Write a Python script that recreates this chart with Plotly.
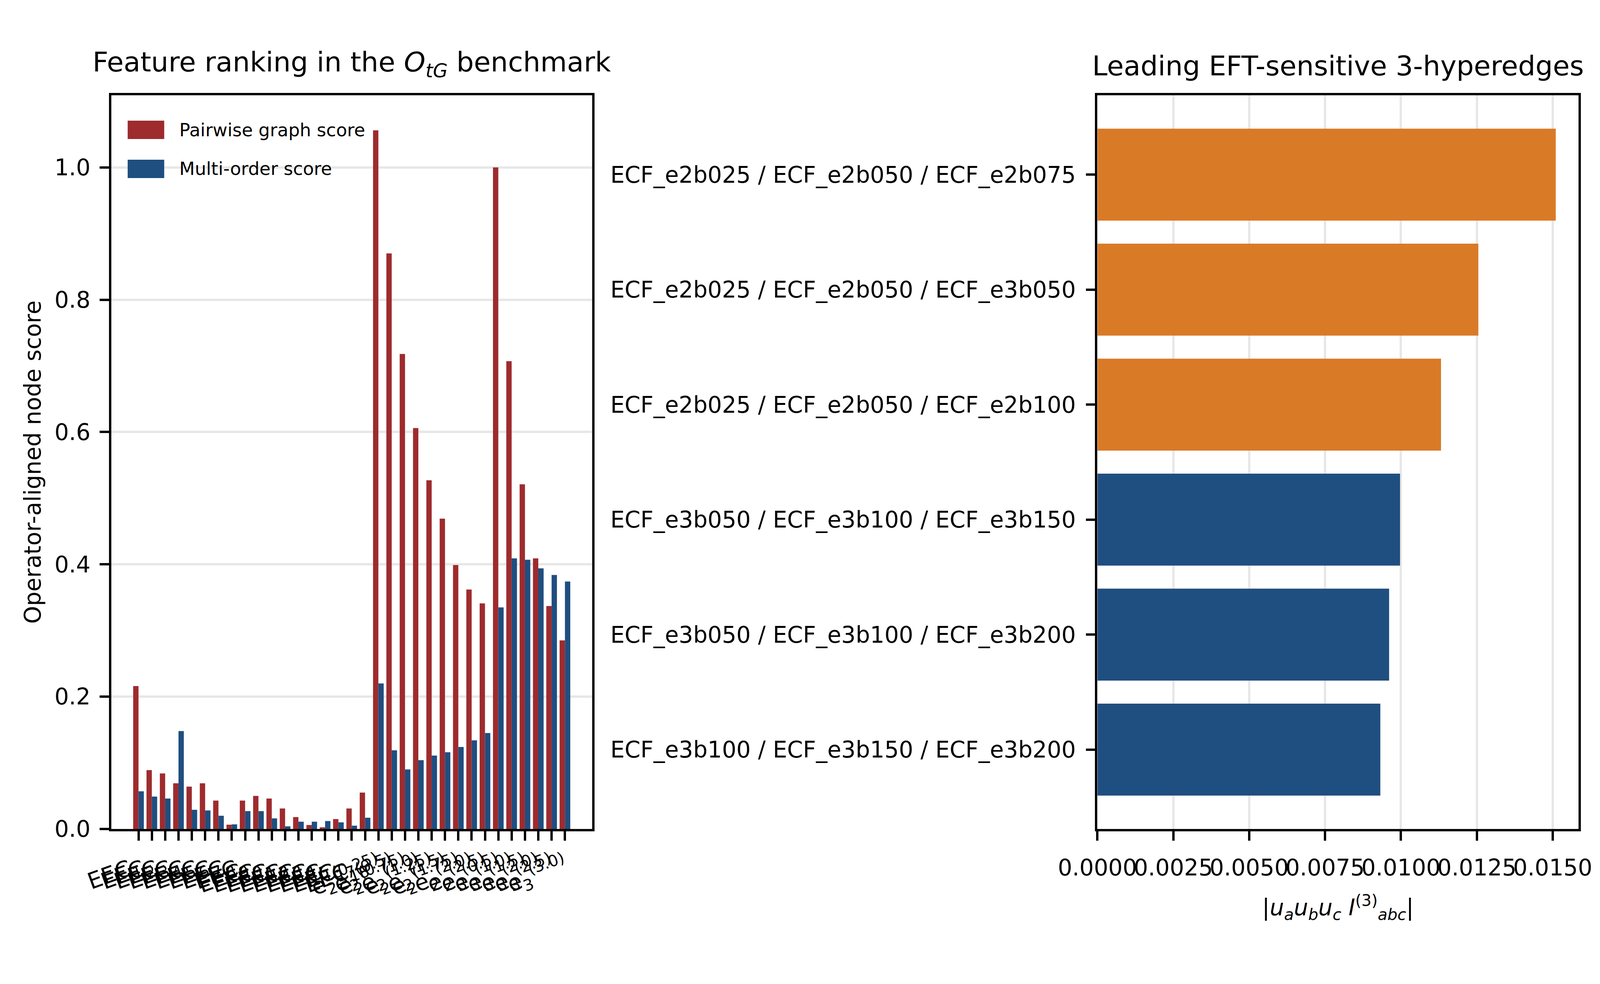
import plotly.graph_objects as go


# ==========================================
# DATA
# ==========================================

features = (
    ["EEC<sub>%d</sub>" % i for i in range(1, 19)]
    + ["e<sub>2</sub><sup>(%s)</sup>" % b for b in
       ["0.25", "0.5", "0.75", "1.0", "1.25", "1.5", "1.75", "2.0", "2.5"]]
    + ["e<sub>3</sub><sup>(%s)</sup>" % b for b in
       ["0.5", "1.0", "1.5", "2.0", "2.5", "3.0"]]
)

pairwise_score = [
    0.216, 0.089, 0.084, 0.069, 0.064, 0.069, 0.043, 0.0065, 0.043,
    0.050, 0.046, 0.031, 0.018, 0.006, 0.0025, 0.015, 0.031, 0.055,
    1.056, 0.870, 0.718, 0.606, 0.527, 0.469, 0.399, 0.362, 0.341,
    1.000, 0.707, 0.521, 0.409, 0.337, 0.285,
]

multi_order_score = [
    0.057, 0.049, 0.046, 0.148, 0.029, 0.028, 0.020, 0.007, 0.027,
    0.027, 0.016, 0.004, 0.011, 0.011, 0.012, 0.010, 0.005, 0.017,
    0.220, 0.119, 0.090, 0.104, 0.111, 0.116, 0.124, 0.134, 0.145,
    0.335, 0.409, 0.407, 0.394, 0.384, 0.374,
]

hyperedges = [
    "ECF_e2b025 / ECF_e2b050 / ECF_e2b075",
    "ECF_e2b025 / ECF_e2b050 / ECF_e3b050",
    "ECF_e2b025 / ECF_e2b050 / ECF_e2b100",
    "ECF_e3b050 / ECF_e3b100 / ECF_e3b150",
    "ECF_e3b050 / ECF_e3b100 / ECF_e3b200",
    "ECF_e3b100 / ECF_e3b150 / ECF_e3b200",
]

hyperedge_score = [0.01510, 0.01255, 0.01132, 0.00997, 0.00961, 0.00932]

# ==========================================
# STYLE
# ==========================================

RED = "#9e2b2e"
BLUE = "#1f4e80"
ORANGE = "#d97a27"
FONT = "DejaVu Sans"
LW = 5.5
GRID = "rgba(176,176,176,0.3)"

hyper_colors = [ORANGE] * 3 + [BLUE] * 3

fig = go.Figure()

# LEFT: node scores
fig.add_trace(
    go.Bar(
        x=features,
        y=pairwise_score,
        name="Pairwise graph score",
        marker=dict(color=RED, line=dict(width=0)),
        xaxis="x",
        yaxis="y",
        showlegend=False,
    )
)

fig.add_trace(
    go.Bar(
        x=features,
        y=multi_order_score,
        name="Multi-order score",
        marker=dict(color=BLUE, line=dict(width=0)),
        xaxis="x",
        yaxis="y",
        showlegend=False,
    )
)

# RIGHT: hyperedges
fig.add_trace(
    go.Bar(
        x=hyperedge_score,
        y=hyperedges,
        orientation="h",
        width=0.8,
        marker=dict(color=hyper_colors, line=dict(width=0)),
        xaxis="x2",
        yaxis="y2",
        showlegend=False,
    )
)

axis_common = dict(
    showline=True,
    linecolor="black",
    linewidth=LW,
    mirror=True,
    ticks="outside",
    ticklen=24,
    tickwidth=LW,
    tickcolor="black",
    tickfont=dict(family=FONT, size=58, color="black"),
    zeroline=False,
    layer="above traces",
)

fig.update_layout(
    width=4096,
    height=2520,
    margin=dict(l=277, r=63, t=236, b=405),
    paper_bgcolor="white",
    plot_bgcolor="white",
    font=dict(family=FONT, size=58, color="black"),
    barmode="group",
    bargap=0.2,
    bargroupgap=0,
    xaxis=dict(
        domain=[0, 0.3277],
        range=[-2.04, 34.04],
        tickmode="linear",
        tick0=0,
        dtick=1,
        tickangle=-20,
        showgrid=False,
        ticklabelstandoff=10,
        **axis_common
    ),
    yaxis=dict(
        domain=[0, 1],
        range=[0, 1.109],
        tickvals=[0, 0.2, 0.4, 0.6, 0.8, 1.0],
        tickformat=".1f",
        showgrid=True,
        gridcolor=GRID,
        gridwidth=LW,
        ticklabelstandoff=12,
        title=dict(
            text="Operator-aligned node score",
            font=dict(family=FONT, size=58),
            standoff=18,
        ),
        **axis_common
    ),
    xaxis2=dict(
        domain=[0.6721, 1],
        anchor="y2",
        range=[0, 0.01585],
        tickvals=[0, 0.0025, 0.005, 0.0075, 0.01, 0.0125, 0.015],
        tickformat=".4f",
        tickangle=0,
        showgrid=True,
        gridcolor=GRID,
        gridwidth=LW,
        ticklabelstandoff=20,
        title=dict(
            text="|<i>u</i><sub><i>a</i></sub><i>u</i><sub><i>b</i></sub>"
                 "<i>u</i><sub><i>c</i></sub> <i>I</i><sup>(3)</sup>"
                 "<sub><i>abc</i></sub>|",
            font=dict(family=FONT, size=58),
            standoff=50,
        ),
        **axis_common
    ),
    yaxis2=dict(
        domain=[0, 1],
        anchor="x2",
        range=[5.69, -0.69],
        showgrid=False,
        ticklabelstandoff=14,
        **axis_common
    ),
)

# TITLES
fig.add_annotation(
    text="Feature ranking in the <i>O</i><sub><i>tG</i></sub> benchmark",
    xref="x domain", yref="y domain", x=0.5, y=1,
    xanchor="center", yanchor="bottom", yshift=32,
    showarrow=False, font=dict(family=FONT, size=70),
)
fig.add_annotation(
    text="Leading EFT-sensitive 3-hyperedges",
    xref="x2 domain", yref="y2 domain", x=0.5, y=1,
    xanchor="center", yanchor="bottom", yshift=32,
    showarrow=False, font=dict(family=FONT, size=70),
)

# LEGEND (upper left, no frame)
legend_items = [("Pairwise graph score", RED, 0.9654, 0.9404),
                ("Multi-order score", BLUE, 0.9122, 0.8872)]
for label, color, y_top, y_bot in legend_items:
    fig.add_shape(
        type="rect", xref="x domain", yref="y domain",
        x0=0.034, x1=0.110, y0=y_bot, y1=y_top,
        fillcolor=color, line=dict(width=0),
    )
    fig.add_annotation(
        text=label, xref="x domain", yref="y domain",
        x=0.140, y=(y_top + y_bot) / 2,
        xanchor="left", yanchor="middle",
        showarrow=False, font=dict(family=FONT, size=46),
    )

fig.write_html("out.html")
